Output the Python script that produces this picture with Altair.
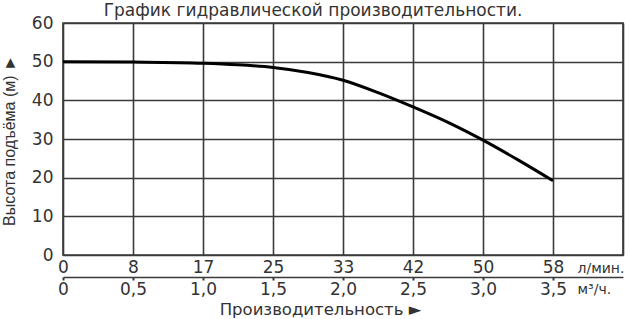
import altair as alt
import pandas as pd

# Data
flow_m3h = [0, 0.5, 1.0, 1.25, 1.5, 1.75, 2.0, 2.25, 2.5, 2.75, 3.0, 3.25, 3.5]
head_m = [50, 49.9, 49.6, 49.2, 48.5, 47.2, 45.2, 42.0, 38.3, 34.3, 29.7, 24.6, 19.2]

tick_m3h = [0, 0.5, 1.0, 1.5, 2.0, 2.5, 3.0, 3.5, 4.0]
labels_lpm = ["0", "8", "17", "25", "33", "42", "50", "58"]
labels_m3h = ["0", "0,5", "1,0", "1,5", "2,0", "2,5", "3,0", "3,5"]
y_ticks = [0, 10, 20, 30, 40, 50, 60]

title_text = "График гидравлической производительности."
y_title = "Высота подъёма (м) ►"
x_title = "Производительность ►"
unit_lpm = "л/мин."
unit_m3h = "м³/ч."

df = pd.DataFrame({"q": flow_m3h, "h": head_m})

FONT = "Liberation Sans"
WIDE = "DejaVu Sans"
TXT = "#333333"
GRID = "#3a3a3a"

def arr(lst):
    return "[" + ",".join("'" + s + "'" for s in lst) + "]"

x_scale = alt.Scale(domain=[0, 4], nice=False, zero=False)
y_scale = alt.Scale(domain=[0, 60], nice=False)

y_axis = alt.Axis(orient="left", values=y_ticks, grid=True, gridColor=GRID, gridWidth=1.6, gridOpacity=1,
                  ticks=False, domain=False, labelFontSize=17, labelColor=TXT, labelFont=WIDE,
                  labelPadding=10, labelOverlap=False, labelFlush=False, labelBound=False,
                  title=y_title, titleFont=FONT, titleFontSize=16, titleX=-54, titleY=117,
                  titleAngle=270, titleAlign="center", titleBaseline="middle",
                  titleFontWeight="normal", titleColor=TXT)

y_enc = alt.Y("h:Q", scale=y_scale, axis=y_axis)

line = alt.Chart(df).mark_line(color="#000000", strokeWidth=3, interpolate="monotone").encode(
    x=alt.X("q:Q", scale=x_scale,
            axis=alt.Axis(orient="bottom", values=tick_m3h, grid=True, gridColor=GRID, gridWidth=1.6,
                          gridOpacity=1, ticks=False, domain=False,
                          labelExpr=arr(labels_lpm) + "[round(datum.value*2)] || ''",
                          labelFontSize=17, labelColor=TXT, labelFont=WIDE, labelPadding=4,
                          labelFlush=False, labelOverlap=False,
                          title=unit_lpm, titleX=514, titleY=13, titleAlign="left",
                          titleBaseline="middle", titleFont=WIDE, titleFontSize=14,
                          titleFontWeight="normal", titleColor=TXT)),
    y=y_enc,
)

axis2 = alt.Chart(df).mark_point(opacity=0).encode(
    x=alt.X("q:Q", scale=x_scale,
            axis=alt.Axis(orient="bottom", values=tick_m3h[:-1], grid=False, ticks=True, tickSize=3,
                          tickWidth=2, tickColor=GRID, domain=True, domainColor=GRID, domainWidth=1.6,
                          offset=22, labelExpr=arr(labels_m3h) + "[round(datum.value*2)] || ''",
                          labelFontSize=17, labelColor=TXT, labelFont=WIDE, labelPadding=1,
                          labelFlush=False, labelOverlap=False,
                          title=unit_m3h, titleX=514, titleY=12, titleAlign="left",
                          titleBaseline="middle", titleFont=WIDE, titleFontSize=14,
                          titleFontWeight="normal", titleColor=TXT)),
    y=y_enc,
)

axis3 = alt.Chart(df).mark_point(opacity=0).encode(
    x=alt.X("q:Q", scale=x_scale,
            axis=alt.Axis(orient="bottom", grid=False, ticks=False, domain=False, labels=False,
                          title=x_title, titleX=257, titleY=54, titleAlign="center",
                          titleBaseline="middle", titleFont=WIDE, titleFontSize=16.5,
                          titleFontWeight="normal", titleColor=TXT)),
    y=y_enc,
)

chart = alt.layer(line, axis2, axis3).resolve_axis(x="independent").properties(
    width=560, height=232,
    autosize=alt.AutoSizeParams(type="none"),
    padding={"left": 63, "top": 23, "right": 7, "bottom": 64},
    background="white",
    title=alt.TitleParams(title_text, font=WIDE, fontSize=17, fontWeight="normal", color=TXT,
                          anchor="middle", dx=-30, offset=4, dy=10),
).configure_view(stroke=GRID, strokeWidth=1.6)

chart.save("out.html", embed_options={"renderer": "svg", "actions": False})
